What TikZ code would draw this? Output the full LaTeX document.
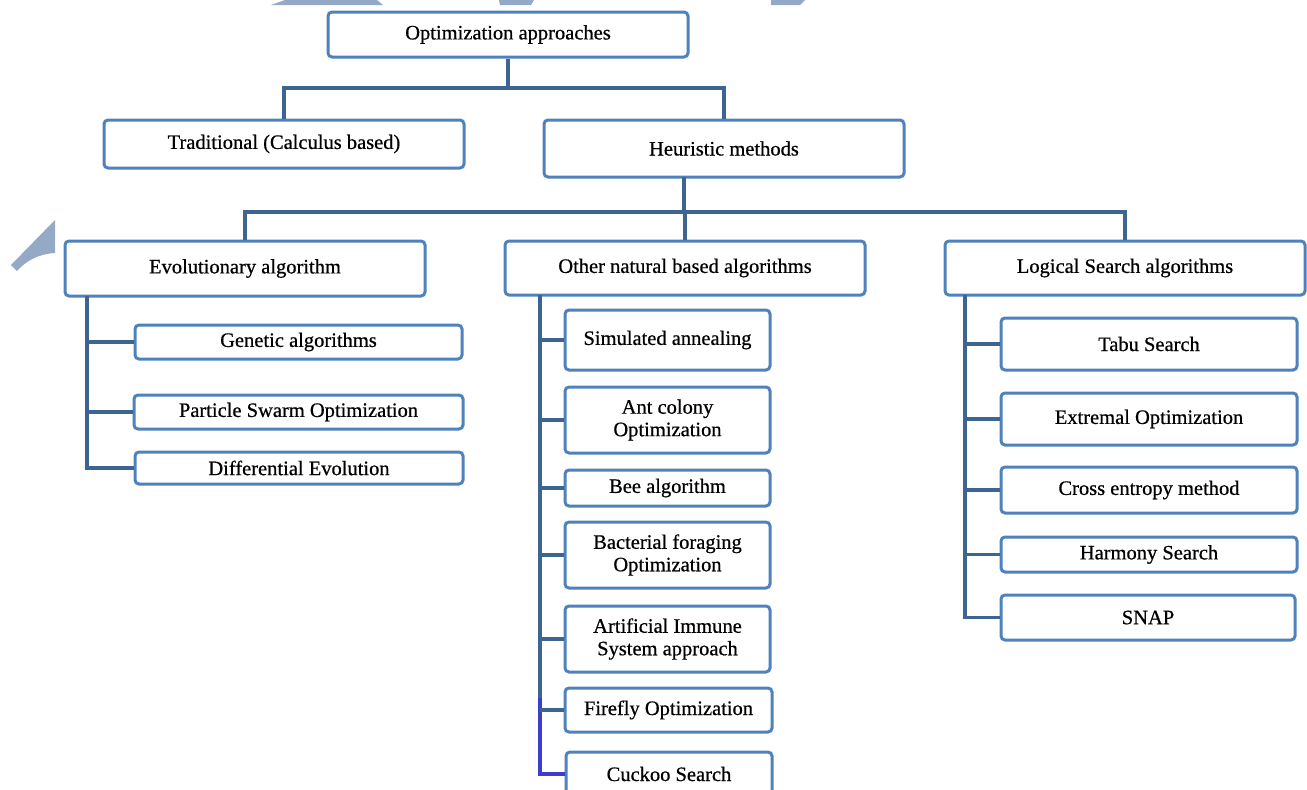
\documentclass[tikz,border=0pt]{standalone}
\usepackage{fontspec}
\setmainfont[FakeBold=0.6]{Liberation Serif}
\definecolor{boxc}{RGB}{79,129,189}
\definecolor{connc}{RGB}{62,100,145}
\definecolor{blueseg}{RGB}{60,60,205}
\definecolor{wmark}{RGB}{147,169,198}
\begin{document}
\begin{tikzpicture}[x=1pt,y=-1pt,
  box/.style={draw=boxc, line width=3pt, rounded corners=4pt, fill=white, inner sep=0pt,
    align=center, text=black, font=\fontsize{20.5}{22.5}\selectfont},
  conn/.style={draw=connc, line width=3.8pt}]
\useasboundingbox (0,0) rectangle (1307,790);
\clip (0,0) rectangle (1307,790);
% watermark fragments
\fill[wmark] (11,265) -- (55,220) -- (55,253) .. controls (38,254) and (26,261) .. (17,271) -- cycle;
\fill[wmark] (285,0) -- (377,0) -- (383,5) -- (271,5) -- cycle;
\fill[wmark] (499,0) -- (534,0) -- (531,5) -- (500,5) -- cycle;
\fill[wmark] (771,0) -- (805,0) -- (800,5) -- (771,5) -- cycle;

% level 0-1
\node[box, minimum width=360, minimum height=45] (top) at (508,34.5) {Optimization approaches};
\node[box, minimum width=360, minimum height=48] (trad) at (284,144) {Traditional (Calculus based)};
\node[box, minimum width=360, minimum height=57] (heur) at (724,148.5) {Heuristic methods};
% level 2
\node[box, minimum width=360, minimum height=55] (evo) at (245,268.5) {Evolutionary algorithm};
\node[box, minimum width=360, minimum height=54] (oth) at (685,268) {Other natural based algorithms};
\node[box, minimum width=360, minimum height=54] (log) at (1125,268) {Logical Search algorithms};
% evolutionary children
\node[box, minimum width=327, minimum height=34] (ga) at (298.5,342) {Genetic algorithms};
\node[box, minimum width=329, minimum height=34] (pso) at (298.5,412) {Particle Swarm Optimization};
\node[box, minimum width=328, minimum height=32] (de) at (299,468) {Differential Evolution};
% other natural children
\node[box, minimum width=205, minimum height=60] (sa) at (667.5,340) {Simulated annealing};
\node[box, minimum width=205, minimum height=66] (aco) at (667.5,420) {Ant colony\\Optimization};
\node[box, minimum width=205, minimum height=36] (bee) at (667.5,488) {Bee algorithm};
\node[box, minimum width=205, minimum height=66] (bfo) at (667.5,555) {Bacterial foraging\\Optimization};
\node[box, minimum width=205, minimum height=66] (ais) at (667.5,639) {Artificial Immune\\System approach};
\node[box, minimum width=207, minimum height=44] (ff) at (668.5,710) {Firefly Optimization};
\node[box, minimum width=206, minimum height=44] (cs) at (669,774) {Cuckoo Search};
% logical children
\node[box, minimum width=296, minimum height=52] (tabu) at (1149,344) {Tabu Search};
\node[box, minimum width=296, minimum height=52] (eo) at (1149,419) {Extremal Optimization};
\node[box, minimum width=296, minimum height=46] (ce) at (1149,490) {Cross entropy method};
\node[box, minimum width=296, minimum height=35] (hs) at (1149,554.5) {Harmony Search};
\node[box, minimum width=294, minimum height=45] (snap) at (1148,617.5) {SNAP};

% connectors level 0-1
\coordinate (j1) at (508,88);
\draw[conn] (top.south) -- (j1);
\draw[conn] (trad.north) |- (j1) -| (heur.north);
% connectors level 1-2
\coordinate (h0) at (684,177);
\coordinate (j2) at (684,212);
\draw[conn] (h0) -- (j2);
\draw[conn] (evo.north) |- (j2) -| (log.north);
\draw[conn] (oth.north) -- (oth.north |- j2);
% evolutionary
\coordinate (e0) at (87,296);
\draw[conn] (e0) |- (de.west);
\draw[conn] (ga.west) -- (ga.west -| e0);
\draw[conn] (pso.west) -- (pso.west -| e0);
% other natural
\coordinate (o0) at (540,295);
\coordinate (o1) at (540,698);
\draw[conn] (o0) -- (o1);
\draw[conn, draw=blueseg] (o1) |- (cs.west);
\foreach \n in {sa,aco,bee,bfo,ais,ff} \draw[conn] (\n.west) -- (\n.west -| o0);
% logical
\coordinate (l0) at (965,295);
\draw[conn] (l0) |- (snap.west);
\foreach \n in {tabu,eo,ce,hs} \draw[conn] (\n.west) -- (\n.west -| l0);
\end{tikzpicture}
\end{document}
